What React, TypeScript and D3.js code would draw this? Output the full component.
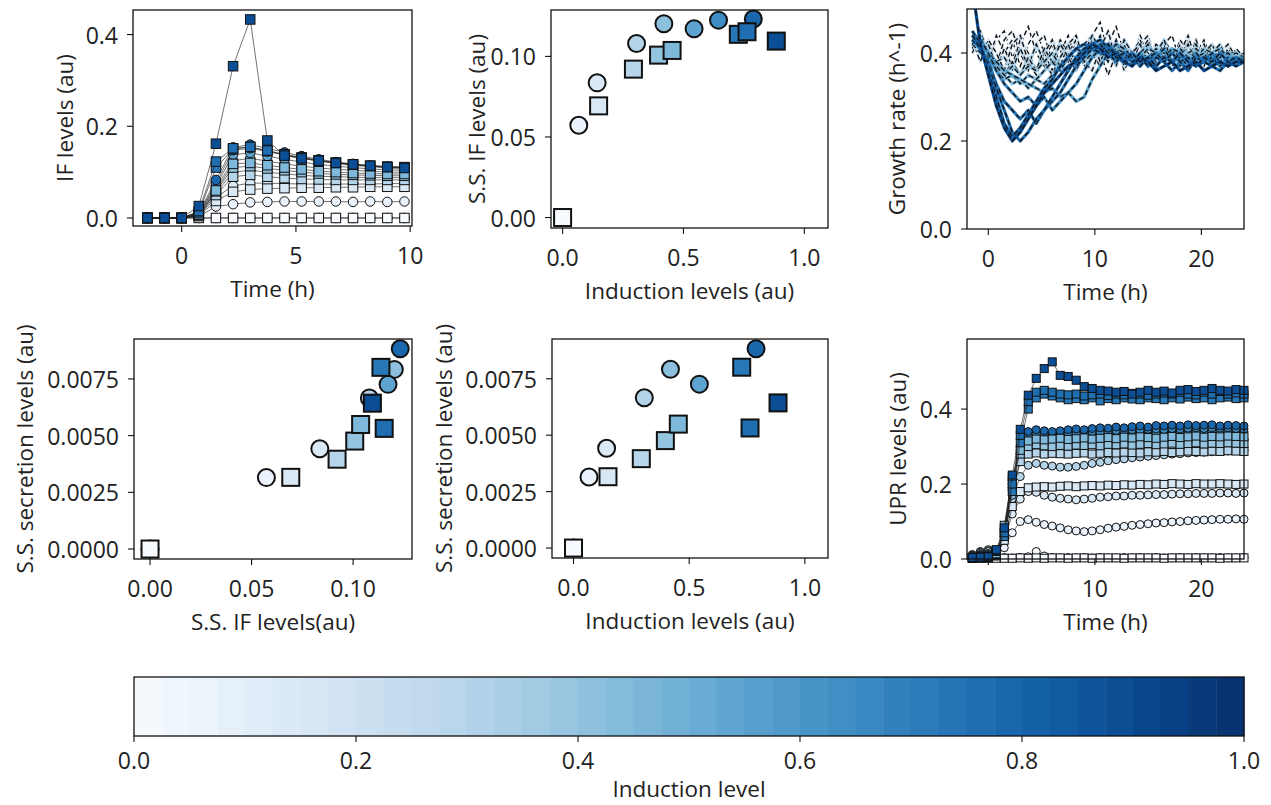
import React from "react";
import * as d3 from "d3";

// ---------------- data ----------------
const circleInd = [0, 0.067, 0.143, 0.306, 0.419, 0.544, 0.645, 0.789];
const squareInd = [0, 0.149, 0.293, 0.397, 0.453, 0.727, 0.763, 0.884];

const circleSSIF = [0, 0.0573, 0.0836, 0.108, 0.1203, 0.1172, 0.1225, 0.1232];
const squareSSIF = [0, 0.0693, 0.0921, 0.1008, 0.1037, 0.1137, 0.1153, 0.1095];

const circleSec: (number | null)[] = [0, 0.00315, 0.00442, 0.00666, 0.00792, 0.00726, null, 0.00883];
const squareSec: (number | null)[] = [0, 0.00316, 0.00396, 0.00476, 0.00549, 0.00801, 0.00532, 0.00643];

const ifTimes = [-1.5, -0.75, 0, 0.75, 1.5, 2.25, 3, 3.75, 4.5, 5.25, 6, 6.75, 7.5, 8.25, 9, 9.75];

const ifCircles = [
  [0, 0, 0, 0, 0, 0, 0, 0, 0, 0, 0, 0, 0, 0, 0, 0],
  [0, 0, 0, 0.003, 0.025, 0.03, 0.034, 0.035, 0.036, 0.036, 0.036, 0.036, 0.035, 0.036, 0.035, 0.036],
  [0, 0, 0, 0.005, 0.045, 0.07, 0.076, 0.076, 0.075, 0.074, 0.074, 0.074, 0.074, 0.074, 0.075, 0.075],
  [0, 0, 0, 0.007, 0.055, 0.1, 0.104, 0.1, 0.096, 0.093, 0.091, 0.09, 0.089, 0.088, 0.088, 0.088],
  [0, 0, 0, 0.009, 0.065, 0.125, 0.13, 0.124, 0.118, 0.113, 0.109, 0.106, 0.104, 0.102, 0.1, 0.1],
  [0, 0, 0, 0.01, 0.07, 0.138, 0.142, 0.135, 0.128, 0.122, 0.117, 0.113, 0.11, 0.107, 0.105, 0.104],
  [0, 0, 0, 0.011, 0.075, 0.148, 0.152, 0.145, 0.137, 0.13, 0.124, 0.119, 0.115, 0.112, 0.109, 0.108],
  [0, 0, 0, 0.012, 0.083, 0.154, 0.16, 0.152, 0.143, 0.135, 0.128, 0.122, 0.118, 0.114, 0.112, 0.11],
];
const ifSquares = [
  [0, 0, 0, 0, 0, 0, 0, 0, 0, 0, 0, 0, 0, 0, 0, 0],
  [0, 0, 0, 0.004, 0.037, 0.057, 0.062, 0.064, 0.065, 0.066, 0.066, 0.067, 0.067, 0.068, 0.068, 0.068],
  [0, 0, 0, 0.006, 0.05, 0.09, 0.094, 0.09, 0.087, 0.085, 0.084, 0.083, 0.083, 0.083, 0.083, 0.083],
  [0, 0, 0, 0.007, 0.058, 0.11, 0.113, 0.108, 0.104, 0.1, 0.097, 0.095, 0.094, 0.093, 0.092, 0.092],
  [0, 0, 0, 0.008, 0.06, 0.118, 0.12, 0.115, 0.11, 0.106, 0.102, 0.1, 0.098, 0.097, 0.096, 0.096],
  [0, 0, 0, 0.012, 0.11, 0.15, 0.155, 0.146, 0.138, 0.131, 0.125, 0.12, 0.116, 0.113, 0.111, 0.11],
  [0, 0, 0, 0.015, 0.123, 0.152, 0.155, 0.147, 0.139, 0.132, 0.126, 0.121, 0.117, 0.114, 0.112, 0.111],
  [0, 0, 0, 0.026, 0.162, 0.331, 0.433, 0.169, 0.136, 0.13, 0.125, 0.12, 0.117, 0.114, 0.111, 0.109],
];

const longTimes = [-1.5, -0.75, 0, 0.75, 1.5, 2.25, 3, 3.75, 4.5, 5.25, 6, 6.75, 7.5, 8.25, 9, 9.75, 10.5, 11.25, 12, 12.75, 13.5, 14.25, 15, 15.75, 16.5, 17.25, 18, 18.75, 19.5, 20.25, 21, 21.75, 22.5, 23.25, 24];

const growthCircles = [
  [0.42, 0.40, 0.38, 0.43, 0.45, 0.39, 0.42, 0.46, 0.40, 0.37, 0.43, 0.40, 0.44, 0.38, 0.41, 0.40, 0.37, 0.42, 0.46, 0.40, 0.38, 0.42, 0.37, 0.40, 0.43, 0.38, 0.41, 0.37, 0.40, 0.43, 0.38, 0.40, 0.42, 0.38, 0.40],
  [0.40, 0.44, 0.41, 0.37, 0.43, 0.45, 0.40, 0.36, 0.42, 0.44, 0.38, 0.43, 0.40, 0.37, 0.42, 0.44, 0.40, 0.35, 0.40, 0.43, 0.38, 0.42, 0.44, 0.37, 0.40, 0.38, 0.43, 0.40, 0.37, 0.40, 0.42, 0.38, 0.40, 0.37, 0.39],
  [0.41, 0.45, 0.40, 0.36, 0.41, 0.37, 0.43, 0.40, 0.36, 0.39, 0.42, 0.37, 0.40, 0.43, 0.37, 0.40, 0.44, 0.38, 0.42, 0.36, 0.40, 0.43, 0.38, 0.42, 0.40, 0.37, 0.42, 0.38, 0.43, 0.38, 0.40, 0.37, 0.41, 0.39, 0.39],
  [0.42, 0.40, 0.42, 0.37, 0.35, 0.38, 0.35, 0.39, 0.36, 0.41, 0.38, 0.42, 0.39, 0.36, 0.40, 0.44, 0.41, 0.38, 0.43, 0.37, 0.40, 0.42, 0.37, 0.40, 0.43, 0.38, 0.40, 0.37, 0.42, 0.38, 0.40, 0.42, 0.38, 0.40, 0.38],
  [0.44, 0.42, 0.40, 0.37, 0.35, 0.33, 0.34, 0.32, 0.34, 0.33, 0.35, 0.37, 0.36, 0.39, 0.41, 0.40, 0.42, 0.39, 0.41, 0.40, 0.38, 0.40, 0.39, 0.41, 0.39, 0.40, 0.38, 0.40, 0.41, 0.39, 0.40, 0.39, 0.40, 0.38, 0.39],
  [0.43, 0.42, 0.40, 0.38, 0.36, 0.35, 0.34, 0.33, 0.32, 0.31, 0.32, 0.30, 0.31, 0.29, 0.30, 0.34, 0.37, 0.40, 0.42, 0.41, 0.39, 0.40, 0.38, 0.40, 0.39, 0.41, 0.40, 0.38, 0.39, 0.40, 0.37, 0.39, 0.40, 0.38, 0.39],
  [0.44, 0.43, 0.40, 0.36, 0.33, 0.31, 0.29, 0.30, 0.28, 0.30, 0.27, 0.29, 0.31, 0.33, 0.36, 0.39, 0.41, 0.42, 0.40, 0.39, 0.38, 0.40, 0.37, 0.39, 0.41, 0.38, 0.39, 0.37, 0.40, 0.38, 0.39, 0.37, 0.39, 0.38, 0.39],
  [0.44, 0.41, 0.36, 0.30, 0.24, 0.21, 0.23, 0.26, 0.29, 0.32, 0.34, 0.37, 0.39, 0.41, 0.42, 0.41, 0.40, 0.42, 0.39, 0.38, 0.40, 0.38, 0.39, 0.37, 0.39, 0.38, 0.40, 0.38, 0.37, 0.39, 0.38, 0.40, 0.38, 0.37, 0.38],
];
const growthSquares = [
  [0.44, 0.41, 0.38, 0.44, 0.40, 0.43, 0.37, 0.42, 0.45, 0.40, 0.36, 0.42, 0.38, 0.43, 0.40, 0.44, 0.47, 0.40, 0.37, 0.42, 0.38, 0.44, 0.40, 0.36, 0.42, 0.44, 0.38, 0.43, 0.40, 0.37, 0.42, 0.40, 0.38, 0.41, 0.39],
  [0.43, 0.38, 0.43, 0.40, 0.36, 0.42, 0.44, 0.38, 0.35, 0.40, 0.43, 0.37, 0.42, 0.44, 0.38, 0.36, 0.41, 0.45, 0.38, 0.42, 0.37, 0.40, 0.43, 0.38, 0.42, 0.37, 0.40, 0.44, 0.38, 0.42, 0.37, 0.40, 0.42, 0.39, 0.40],
  [0.45, 0.42, 0.40, 0.38, 0.39, 0.36, 0.41, 0.37, 0.42, 0.38, 0.35, 0.39, 0.42, 0.37, 0.40, 0.43, 0.38, 0.42, 0.37, 0.43, 0.40, 0.37, 0.42, 0.38, 0.43, 0.40, 0.37, 0.42, 0.38, 0.40, 0.42, 0.38, 0.40, 0.40, 0.39],
  [0.43, 0.41, 0.38, 0.36, 0.35, 0.37, 0.35, 0.37, 0.36, 0.38, 0.40, 0.37, 0.39, 0.41, 0.38, 0.40, 0.42, 0.40, 0.38, 0.41, 0.39, 0.40, 0.42, 0.39, 0.40, 0.38, 0.41, 0.40, 0.39, 0.41, 0.40, 0.38, 0.40, 0.39, 0.39],
  [0.42, 0.44, 0.39, 0.36, 0.34, 0.35, 0.33, 0.35, 0.34, 0.36, 0.38, 0.36, 0.39, 0.41, 0.40, 0.42, 0.40, 0.39, 0.41, 0.38, 0.40, 0.39, 0.41, 0.40, 0.38, 0.40, 0.41, 0.39, 0.40, 0.38, 0.40, 0.41, 0.39, 0.40, 0.39],
  [0.43, 0.41, 0.38, 0.33, 0.29, 0.27, 0.25, 0.27, 0.24, 0.27, 0.29, 0.31, 0.34, 0.37, 0.39, 0.41, 0.42, 0.40, 0.38, 0.40, 0.39, 0.37, 0.39, 0.40, 0.38, 0.36, 0.38, 0.39, 0.37, 0.38, 0.40, 0.38, 0.37, 0.39, 0.38],
  [0.45, 0.42, 0.37, 0.32, 0.27, 0.22, 0.20, 0.22, 0.25, 0.27, 0.30, 0.33, 0.36, 0.39, 0.41, 0.42, 0.43, 0.41, 0.39, 0.40, 0.38, 0.39, 0.37, 0.39, 0.38, 0.40, 0.38, 0.36, 0.39, 0.38, 0.37, 0.36, 0.38, 0.39, 0.38],
  [0.55, 0.42, 0.35, 0.28, 0.23, 0.20, 0.22, 0.25, 0.28, 0.31, 0.33, 0.35, 0.37, 0.38, 0.40, 0.42, 0.41, 0.39, 0.40, 0.38, 0.37, 0.39, 0.38, 0.36, 0.37, 0.38, 0.36, 0.37, 0.38, 0.36, 0.37, 0.38, 0.37, 0.38, 0.38],
];

const uprCircles = [
  [0.005, 0.01, 0.012, 0.008, 0.004, 0.003, 0.004, 0.006, 0.02, 0.008, 0.004, 0.003, 0.004, 0.003, 0.004, 0.003, 0.004, 0.003, 0.003, 0.004, 0.003, 0.004, 0.003, 0.004, 0.003, 0.003, 0.004, 0.003, 0.004, 0.003, 0.003, 0.004, 0.003, 0.003, 0.004],
  [0.01, 0.02, 0.025, 0.012, 0.03, 0.07, 0.1, 0.105, 0.098, 0.092, 0.088, 0.083, 0.078, 0.075, 0.073, 0.075, 0.078, 0.082, 0.085, 0.087, 0.09, 0.092, 0.094, 0.096, 0.097, 0.099, 0.1, 0.102, 0.103, 0.104, 0.105, 0.106, 0.106, 0.107, 0.106],
  [0.012, 0.018, 0.022, 0.015, 0.05, 0.12, 0.16, 0.18, 0.178, 0.17, 0.165, 0.162, 0.16, 0.158, 0.16, 0.162, 0.165, 0.166, 0.168, 0.168, 0.17, 0.17, 0.171, 0.172, 0.172, 0.173, 0.174, 0.174, 0.175, 0.175, 0.175, 0.176, 0.176, 0.175, 0.176],
  [0.01, 0.015, 0.02, 0.015, 0.06, 0.16, 0.22, 0.25, 0.255, 0.25, 0.248, 0.245, 0.245, 0.247, 0.25, 0.255, 0.258, 0.262, 0.265, 0.267, 0.27, 0.272, 0.274, 0.276, 0.278, 0.28, 0.281, 0.283, 0.284, 0.285, 0.286, 0.287, 0.288, 0.289, 0.29],
  [0.008, 0.012, 0.015, 0.012, 0.06, 0.17, 0.26, 0.3, 0.305, 0.3, 0.3, 0.302, 0.3, 0.303, 0.305, 0.307, 0.306, 0.31, 0.31, 0.312, 0.313, 0.312, 0.315, 0.316, 0.315, 0.318, 0.318, 0.32, 0.319, 0.32, 0.32, 0.322, 0.32, 0.321, 0.32],
  [0.006, 0.01, 0.012, 0.01, 0.065, 0.19, 0.28, 0.32, 0.325, 0.32, 0.318, 0.32, 0.322, 0.325, 0.327, 0.326, 0.33, 0.328, 0.332, 0.33, 0.333, 0.335, 0.334, 0.336, 0.335, 0.337, 0.338, 0.336, 0.34, 0.338, 0.34, 0.341, 0.34, 0.338, 0.34],
  [0.005, 0.008, 0.01, 0.01, 0.07, 0.2, 0.29, 0.33, 0.335, 0.332, 0.33, 0.333, 0.335, 0.336, 0.338, 0.34, 0.338, 0.342, 0.343, 0.342, 0.345, 0.344, 0.346, 0.347, 0.345, 0.348, 0.347, 0.349, 0.35, 0.348, 0.35, 0.349, 0.35, 0.348, 0.347],
  [0.004, 0.006, 0.008, 0.01, 0.075, 0.21, 0.3, 0.34, 0.345, 0.342, 0.34, 0.342, 0.345, 0.347, 0.345, 0.348, 0.35, 0.349, 0.352, 0.35, 0.353, 0.355, 0.352, 0.356, 0.355, 0.357, 0.355, 0.358, 0.356, 0.357, 0.358, 0.355, 0.357, 0.356, 0.355],
];
const uprSquares = [
  [0.002, 0.002, 0.002, 0.002, 0.002, 0.002, 0.003, 0.002, 0.003, 0.002, 0.003, 0.003, 0.002, 0.003, 0.003, 0.002, 0.003, 0.003, 0.003, 0.002, 0.003, 0.003, 0.003, 0.003, 0.002, 0.003, 0.003, 0.003, 0.003, 0.003, 0.003, 0.002, 0.003, 0.003, 0.003],
  [0.002, 0.003, 0.003, 0.008, 0.05, 0.14, 0.18, 0.19, 0.192, 0.193, 0.192, 0.194, 0.195, 0.193, 0.195, 0.196, 0.195, 0.197, 0.196, 0.198, 0.197, 0.199, 0.198, 0.2, 0.199, 0.201, 0.2, 0.199, 0.201, 0.2, 0.2, 0.201, 0.2, 0.199, 0.2],
  [0.003, 0.003, 0.004, 0.01, 0.07, 0.19, 0.26, 0.28, 0.283, 0.28, 0.282, 0.281, 0.28, 0.282, 0.283, 0.28, 0.282, 0.284, 0.283, 0.285, 0.284, 0.283, 0.286, 0.285, 0.287, 0.284, 0.286, 0.288, 0.287, 0.286, 0.288, 0.287, 0.289, 0.288, 0.287],
  [0.003, 0.004, 0.004, 0.012, 0.08, 0.21, 0.28, 0.3, 0.305, 0.302, 0.3, 0.303, 0.301, 0.304, 0.303, 0.305, 0.302, 0.306, 0.305, 0.307, 0.304, 0.306, 0.308, 0.305, 0.307, 0.309, 0.306, 0.308, 0.31, 0.307, 0.309, 0.308, 0.31, 0.309, 0.308],
  [0.003, 0.004, 0.005, 0.014, 0.09, 0.22, 0.29, 0.315, 0.32, 0.318, 0.32, 0.322, 0.319, 0.321, 0.323, 0.32, 0.322, 0.324, 0.321, 0.325, 0.323, 0.326, 0.324, 0.322, 0.325, 0.327, 0.324, 0.326, 0.328, 0.325, 0.327, 0.326, 0.328, 0.327, 0.326],
  [0.004, 0.004, 0.005, 0.02, 0.06, 0.18, 0.31, 0.4, 0.43, 0.44, 0.435, 0.43, 0.425, 0.428, 0.425, 0.43, 0.422, 0.428, 0.425, 0.43, 0.427, 0.425, 0.43, 0.428, 0.425, 0.43, 0.427, 0.432, 0.428, 0.43, 0.425, 0.43, 0.432, 0.428, 0.43],
  [0.004, 0.005, 0.006, 0.022, 0.07, 0.2, 0.33, 0.42, 0.445, 0.45, 0.445, 0.44, 0.438, 0.44, 0.435, 0.438, 0.44, 0.436, 0.44, 0.438, 0.442, 0.44, 0.437, 0.44, 0.443, 0.44, 0.445, 0.44, 0.438, 0.445, 0.44, 0.447, 0.44, 0.443, 0.44],
  [0.004, 0.005, 0.006, 0.025, 0.083, 0.224, 0.346, 0.437, 0.482, 0.508, 0.526, 0.49, 0.487, 0.477, 0.46, 0.455, 0.45, 0.448, 0.445, 0.447, 0.44, 0.445, 0.45, 0.445, 0.448, 0.443, 0.45, 0.452, 0.447, 0.45, 0.455, 0.45, 0.448, 0.452, 0.45],
];

const ticksTimeShort = [0, 5, 10];
const ticksTimeLong = [0, 10, 20];
const ticksUnit = [0, 0.5, 1.0];
const ticksIF = [0, 0.2, 0.4];
const ticksSSIF = [0, 0.05, 0.1];
const ticksSec = [0, 0.0025, 0.005, 0.0075];
const ticksCbar = [0, 0.2, 0.4, 0.6, 0.8, 1.0];

// ---------------- drawing ----------------
const FONT = "'Open Sans', 'Noto Sans', sans-serif";
const TXT = "#222";
const TICK_FS = 23;
const LABEL_FS = 22.5;
const color = (v: number) => d3.interpolateBlues(v);

type Box = { x0: number; x1: number; y0: number; y1: number };

function Marker({ shape, cx, cy, size, fill, sw }: any) {
  if (shape === "c")
    return <circle cx={cx} cy={cy} r={size / 2} fill={fill} stroke="#111" strokeWidth={sw} />;
  return <rect x={cx - size / 2} y={cy - size / 2} width={size} height={size} fill={fill} stroke="#111" strokeWidth={sw} />;
}

function Axes({ box, x, y, xTicks, yTicks, xFmt, yFmt, xLabel, yLabel, yLabelX, children }: any) {
  const cxm = (box.x0 + box.x1) / 2;
  const cym = (box.y0 + box.y1) / 2;
  return (
    <g>
      {children}
      <rect x={box.x0} y={box.y0} width={box.x1 - box.x0} height={box.y1 - box.y0} fill="none" stroke="#111" strokeWidth={1.3} />
      {xTicks.map((t: number) => (
        <g key={"x" + t}>
          <line x1={x(t)} x2={x(t)} y1={box.y1} y2={box.y1 + 6} stroke="#111" strokeWidth={1.1} />
          <text x={x(t)} y={box.y1 + 29} textAnchor="middle" dominantBaseline="central" fontSize={TICK_FS} fill={TXT}>{xFmt(t)}</text>
        </g>
      ))}
      {yTicks.map((t: number) => (
        <g key={"y" + t}>
          <line x1={box.x0 - 6} x2={box.x0} y1={y(t)} y2={y(t)} stroke="#111" strokeWidth={1.1} />
          <text x={box.x0 - 15} y={y(t)} textAnchor="end" dominantBaseline="central" fontSize={TICK_FS} fill={TXT}>{yFmt(t)}</text>
        </g>
      ))}
      <text x={cxm} y={box.y1 + 62} textAnchor="middle" dominantBaseline="central" fontSize={LABEL_FS} fill={TXT}>{xLabel}</text>
      <text transform={`translate(${yLabelX},${cym}) rotate(-90)`} textAnchor="middle" dominantBaseline="central" fontSize={LABEL_FS} fill={TXT}>{yLabel}</text>
    </g>
  );
}

function scales(box: Box, xd: number[], yd: number[]) {
  return {
    x: d3.scaleLinear().domain(xd).range([box.x0, box.x1]),
    y: d3.scaleLinear().domain(yd).range([box.y1, box.y0]),
  };
}

export default function App() {
  const f1 = d3.format(".1f");
  const f2 = d3.format(".2f");
  const f4 = d3.format(".4f");
  const fi = d3.format("d");

  const b1: Box = { x0: 133, x1: 412, y0: 10, y1: 226 };
  const s1 = scales(b1, [-2.13, 10.08], [-0.0175, 0.4536]);
  const b2: Box = { x0: 551, x1: 828, y0: 10, y1: 228 };
  const s2 = scales(b2, [-0.048, 1.098], [-0.0065, 0.1288]);
  const b3: Box = { x0: 967, x1: 1244, y0: 9, y1: 229 };
  const s3 = scales(b3, [-2, 24], [0, 0.5]);
  const b4: Box = { x0: 134, x1: 412, y0: 339, y1: 559 };
  const s4 = scales(b4, [-0.0079, 0.129], [-0.00044, 0.00926]);
  const b5: Box = { x0: 552, x1: 828, y0: 339, y1: 558 };
  const s5 = scales(b5, [-0.093, 1.1], [-0.00044, 0.00926]);
  const b6: Box = { x0: 967, x1: 1244, y0: 339, y1: 559 };
  const s6 = scales(b6, [-2, 24], [0, 0.587]);
  const cb: Box = { x0: 134, x1: 1244, y0: 677, y1: 736 };
  const cbx = d3.scaleLinear().domain([0, 1]).range([cb.x0, cb.x1]);
  const nBands = 40;
  const bands = d3.range(nBands);

  const timeSeries = (
    sc: any,
    times: number[],
    sets: { shape: string; ind: number[]; data: number[][] }[],
    size: number,
    sw: number
  ) =>
    sets.map((set) =>
      set.data.map((vals, i) => {
        const line = d3.line<number>().x((_, k) => sc.x(times[k])).y((v) => sc.y(v));
        return (
          <g key={set.shape + i}>
            <path d={line(vals) || ""} fill="none" stroke="#222" strokeOpacity={0.8} strokeWidth={0.8} />
            {vals.map((v, k) => (
              <Marker key={k} shape={set.shape} cx={sc.x(times[k])} cy={sc.y(v)} size={size} fill={color(set.ind[i])} sw={sw} />
            ))}
          </g>
        );
      })
    );

  const scatter = (sc: any, xs: (number | null)[][], ys: (number | null)[][]) => {
    const shapes = ["c", "s"];
    const inds = [circleInd, squareInd];
    return shapes.map((sh, si) =>
      xs[si].map((xv, i) => {
        const yv = ys[si][i];
        if (xv === null || yv === null) return null;
        return <Marker key={sh + i} shape={sh} cx={sc.x(xv)} cy={sc.y(yv)} size={17} fill={color(inds[si][i])} sw={2} />;
      })
    );
  };

  const growthAll = [
    ...circleInd.map((ind, i) => ({ ind, vals: growthCircles[i] })),
    ...squareInd.map((ind, i) => ({ ind, vals: growthSquares[i] })),
  ].sort((a, b) => a.ind - b.ind);
  const gLine = d3.line<number>().x((_, k) => s3.x(longTimes[k])).y((v) => s3.y(v));

  return (
    <svg width={1271} height={805} style={{ position: "absolute", left: 0, top: 0, fontFamily: FONT }}>
      <rect width={1271} height={805} fill="#fff" />
      <defs>
        <clipPath id="clip3"><rect x={b3.x0} y={b3.y0} width={b3.x1 - b3.x0} height={b3.y1 - b3.y0} /></clipPath>
      </defs>

      <Axes box={b1} x={s1.x} y={s1.y} xTicks={ticksTimeShort} yTicks={ticksIF} xFmt={fi} yFmt={f1} xLabel="Time (h)" yLabel="IF levels (au)" yLabelX={64}>
        {timeSeries(s1, ifTimes, [
          { shape: "c", ind: circleInd, data: ifCircles },
          { shape: "s", ind: squareInd, data: ifSquares },
        ], 9.5, 1)}
      </Axes>

      <Axes box={b2} x={s2.x} y={s2.y} xTicks={ticksUnit} yTicks={ticksSSIF} xFmt={f1} yFmt={f2} xLabel="Induction levels (au)" yLabel="S.S. IF levels (au)" yLabelX={476}>
        {scatter(s2, [circleInd, squareInd], [circleSSIF, squareSSIF])}
      </Axes>

      <Axes box={b3} x={s3.x} y={s3.y} xTicks={ticksTimeLong} yTicks={ticksIF} xFmt={fi} yFmt={f1} xLabel="Time (h)" yLabel="Growth rate (h^-1)" yLabelX={896}>
        <g clipPath="url(#clip3)">
          {growthAll.map((g, i) => (
            <g key={i}>
              <path d={gLine(g.vals) || ""} fill="none" stroke={color(g.ind)} strokeWidth={3.2} strokeLinejoin="round" />
              <path d={gLine(g.vals) || ""} fill="none" stroke="#111" strokeWidth={1.4} strokeDasharray="5,3" />
            </g>
          ))}
        </g>
      </Axes>

      <Axes box={b4} x={s4.x} y={s4.y} xTicks={ticksSSIF} yTicks={ticksSec} xFmt={f2} yFmt={f4} xLabel="S.S. IF levels(au)" yLabel="S.S. secretion levels (au)" yLabelX={24}>
        {scatter(s4, [circleSSIF, squareSSIF], [circleSec, squareSec])}
      </Axes>

      <Axes box={b5} x={s5.x} y={s5.y} xTicks={ticksUnit} yTicks={ticksSec} xFmt={f1} yFmt={f4} xLabel="Induction levels (au)" yLabel="S.S. secretion levels (au)" yLabelX={443}>
        {scatter(s5, [circleInd, squareInd], [circleSec, squareSec])}
      </Axes>

      <Axes box={b6} x={s6.x} y={s6.y} xTicks={ticksTimeLong} yTicks={ticksIF} xFmt={fi} yFmt={f1} xLabel="Time (h)" yLabel="UPR levels (au)" yLabelX={897}>
        {timeSeries(s6, longTimes, [
          { shape: "c", ind: circleInd, data: uprCircles },
          { shape: "s", ind: squareInd, data: uprSquares },
        ], 8, 1)}
      </Axes>

      <g>
        {bands.map((i) => (
          <rect key={i} x={cbx(i / nBands)} y={cb.y0} width={cbx((i + 1) / nBands) - cbx(i / nBands) + 0.5} height={cb.y1 - cb.y0} fill={color((i + 0.5) / nBands)} />
        ))}
        <rect x={cb.x0} y={cb.y0} width={cb.x1 - cb.x0} height={cb.y1 - cb.y0} fill="none" stroke="#111" strokeWidth={1.3} />
        {ticksCbar.map((t) => (
          <g key={t}>
            <line x1={cbx(t)} x2={cbx(t)} y1={cb.y1} y2={cb.y1 + 6} stroke="#111" strokeWidth={1.1} />
            <text x={cbx(t)} y={cb.y1 + 24} textAnchor="middle" dominantBaseline="central" fontSize={TICK_FS} fill={TXT}>{f1(t)}</text>
          </g>
        ))}
        <text x={(cb.x0 + cb.x1) / 2} y={788} textAnchor="middle" dominantBaseline="central" fontSize={LABEL_FS} fill={TXT}>Induction level</text>
      </g>
    </svg>
  );
}
